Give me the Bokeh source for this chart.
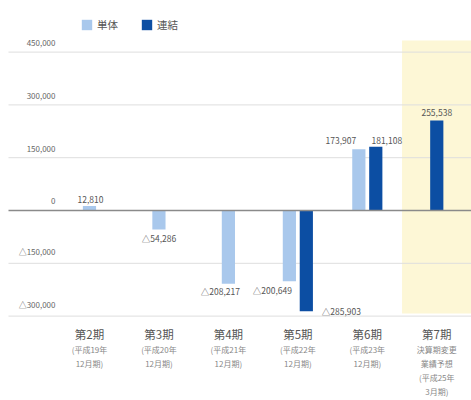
from bokeh.plotting import figure
from bokeh.models import (ColumnDataSource, Range1d, Legend, LegendItem, BoxAnnotation)
from bokeh.core.properties import value
from bokeh.embed import file_html
from bokeh.resources import INLINE

# ---- data ----
categories = ["第2期", "第3期", "第4期", "第5期", "第6期", "第7期"]
sublabels = ["(平成19年\n12月期)", "(平成20年\n12月期)", "(平成21年\n12月期)",
             "(平成22年\n12月期)", "(平成23年\n12月期)",
             "決算期変更\n業績予想\n(平成25年\n3月期)"]
single = [12810, -54286, -208217, -200649, 173907, None]          # 単体
consolidated = [None, None, None, -285903, 181108, 255538]        # 連結
y_ticks = [450000, 300000, 150000, 0, -150000, -300000]
series_names = ["単体", "連結"]

# ---- styling / layout ----
FONT = "Noto Sans CJK JP"
C_SINGLE = "#a9c8ec"
C_CONS = "#0c4ea3"
BAR_W = 0.19
PAIR_OFF = 0.122
single_lbl_off = [(1, -6), (0, 8), (-8, 7), (-17, 9), (-18, -9), None]
cons_lbl_off = [None, None, None, (35, 0), (11, -6), (0, -8)]

X_START, X_END = -1.281, 5.5
Y_START, Y_END = -539773, 596591

def fmt(v):
    s = f"{abs(v):,}"
    return ("△" + s) if v < 0 else s

p = figure(width=471, height=400, output_backend="svg", toolbar_location=None,
           x_range=Range1d(X_START, X_END), y_range=Range1d(Y_START, Y_END),
           x_axis_location=None, y_axis_location=None,
           min_border_left=0, min_border_right=0, min_border_top=0,
           min_border_bottom=0)
p.outline_line_color = None
p.xgrid.visible = False
p.ygrid.visible = False
p.background_fill_color = "white"
p.border_fill_color = "white"

last = len(categories) - 1
p.add_layout(BoxAnnotation(left=last - 0.5, right=X_END, bottom=-292600, top=482955,
                           fill_color="#fdf7d6", fill_alpha=1.0, line_color=None,
                           level="underlay"))

# gridlines
gx0 = X_START + 8 / 69.5
nz = [t for t in y_ticks if t != 0]
p.segment(x0=[gx0] * len(nz), x1=[X_END] * len(nz), y0=nz, y1=nz,
          line_color="#dedede", line_width=1)

# bars
sx, sy, cx, cy = [], [], [], []
for i in range(len(categories)):
    both = single[i] is not None and consolidated[i] is not None
    if single[i] is not None:
        sx.append(i - PAIR_OFF if both else i); sy.append(single[i])
    if consolidated[i] is not None:
        cx.append(i + PAIR_OFF if both else i); cy.append(consolidated[i])

r1 = p.vbar(x=sx, top=sy, bottom=0, width=BAR_W, fill_color=C_SINGLE, line_color=None)
r2 = p.vbar(x=cx, top=cy, bottom=0, width=BAR_W, fill_color=C_CONS, line_color=None)

p.segment(x0=[gx0], x1=[X_END], y0=[0], y1=[0], line_color="#8a8a8a", line_width=1.3)

# value labels
lx, ly, lt, ldx, ldy = [], [], [], [], []
for i in range(len(categories)):
    both = single[i] is not None and consolidated[i] is not None
    if single[i] is not None:
        lx.append(i - PAIR_OFF if both else i); ly.append(single[i]); lt.append(fmt(single[i]))
        ldx.append(single_lbl_off[i][0]); ldy.append(single_lbl_off[i][1])
    if consolidated[i] is not None:
        lx.append(i + PAIR_OFF if both else i); ly.append(consolidated[i]); lt.append(fmt(consolidated[i]))
        ldx.append(cons_lbl_off[i][0]); ldy.append(cons_lbl_off[i][1])
src = ColumnDataSource(dict(x=lx, y=ly, t=lt, dx=ldx, dy=ldy))
p.text(x="x", y="y", text="t", x_offset="dx", y_offset="dy", source=src,
       text_align="center", text_baseline="middle", text_font=value(FONT),
       text_font_size="8.5px", text_color="#555555")

# y tick labels above gridlines
p.text(x=[X_START] * len(y_ticks), y=y_ticks, text=[fmt(t) for t in y_ticks],
       x_offset=55, y_offset=-6, text_align="right", text_baseline="bottom",
       text_font=value(FONT), text_font_size="8px", text_color="#666666")

# category labels below the chart (offsets in px from the zero line)
xs = list(range(len(categories)))
p.text(x=xs, y=[0] * len(xs), text=categories, y_offset=124,
       text_align="center", text_baseline="middle", text_font=value(FONT),
       text_font_size="11.5px", text_color="#555555")
p.text(x=xs, y=[0] * len(xs), text=sublabels, y_offset=134,
       text_align="center", text_baseline="top", text_font=value(FONT),
       text_font_size="8px", text_line_height=1.25, text_color="#888888")

legend = Legend(items=[LegendItem(label=series_names[0], renderers=[r1]),
                       LegendItem(label=series_names[1], renderers=[r2])],
                orientation="horizontal", location=(80, 368),
                glyph_width=13, glyph_height=13, label_standoff=4, spacing=22,
                padding=2, margin=0, border_line_color=None,
                background_fill_alpha=0, label_text_font=FONT,
                label_text_font_size="10.5px", label_text_color="#555555")
p.add_layout(legend, "center")

open("out.html", "w").write(file_html(p, INLINE))
